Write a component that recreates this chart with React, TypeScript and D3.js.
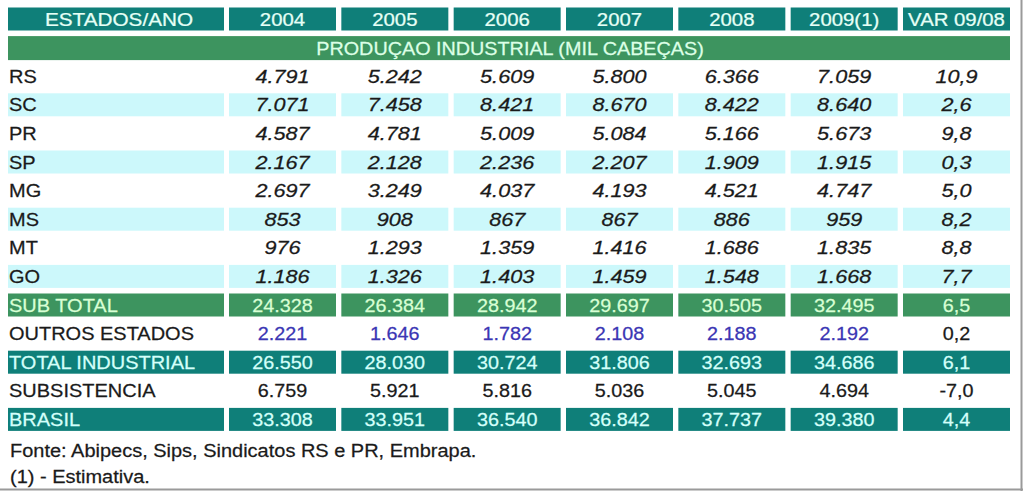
import React from "react";
import * as d3 from "d3";

const headerLabel = "ESTADOS/ANO";
const years = ["2004", "2005", "2006", "2007", "2008", "2009(1)"];
const varLabel = "VAR 09/08";
const sectionTitle = "PRODUÇAO INDUSTRIAL (MIL CABEÇAS)";

const rowNames = ["RS", "SC", "PR", "SP", "MG", "MS", "MT", "GO", "SUB TOTAL", "OUTROS ESTADOS", "TOTAL INDUSTRIAL", "SUBSISTENCIA", "BRASIL"];
const rowKinds = ["state", "state", "state", "state", "state", "state", "state", "state", "subtotal", "outros", "total", "subs", "total"];

const RS = [4791, 5242, 5609, 5800, 6366, 7059];
const SC = [7071, 7458, 8421, 8670, 8422, 8640];
const PR = [4587, 4781, 5009, 5084, 5166, 5673];
const SP = [2167, 2128, 2236, 2207, 1909, 1915];
const MG = [2697, 3249, 4037, 4193, 4521, 4747];
const MS = [853, 908, 867, 867, 886, 959];
const MT = [976, 1293, 1359, 1416, 1686, 1835];
const GO = [1186, 1326, 1403, 1459, 1548, 1668];
const SUBTOTAL = [24328, 26384, 28942, 29697, 30505, 32495];
const OUTROS = [2221, 1646, 1782, 2108, 2188, 2192];
const TOTALIND = [26550, 28030, 30724, 31806, 32693, 34686];
const SUBSIST = [6759, 5921, 5816, 5036, 5045, 4694];
const BRASIL = [33308, 33951, 36540, 36842, 37737, 39380];
const rowValues = [RS, SC, PR, SP, MG, MS, MT, GO, SUBTOTAL, OUTROS, TOTALIND, SUBSIST, BRASIL];
const varValues = [10.9, 2.6, 9.8, 0.3, 5.0, 8.2, 8.8, 7.7, 6.5, 0.2, 6.1, -7.0, 4.4];

const footnotes = ["Fonte: Abipecs, Sips, Sindicatos RS e PR, Embrapa.", "(1) - Estimativa."];

const locale = d3.formatLocale({ decimal: ",", thousands: ".", grouping: [3], currency: ["R$", ""], minus: "-" });
const fmtInt = locale.format(",d");
const fmtVar = locale.format(".1f");

const TEAL = "#0f7f79";
const GREEN = "#3d945f";
const CYAN = "#ccf8fb";
const FONT = "'Liberation Sans', Arial, sans-serif";
const FS = 18.5;

export default function App() {
  const colKeys = [...years, varLabel];
  const x = d3.scaleBand<string>().domain(colKeys).range([229, 1010]).paddingInner(0.0475).paddingOuter(0);
  const labelX0 = 8;
  const labelX1 = 224;
  const rowKeys = ["header", "section", ...rowNames];
  const y = d3.scaleBand<string>().domain(rowKeys).range([7.5, 7.5 + 28.6 * 15 - 5.6]).paddingInner(5.6 / 28.6).paddingOuter(0);
  const bh = y.bandwidth();
  const bw = x.bandwidth();

  const txt = (key: string, tx: number, ty: number, s: string, opts: any = {}) => {
    const sx = opts.sx ?? 1.08;
    const fill = opts.fill ?? "#1a1a1a";
    return (
      <text
        key={key}
        transform={`translate(${tx},${ty}) scale(${sx},1)`}
        textAnchor={opts.anchor ?? "middle"}
        fontFamily={FONT}
        fontSize={opts.fs ?? FS}
        fontStyle={opts.italic ? "italic" : "normal"}
        fill={fill}
        stroke={fill}
        strokeWidth={0.25}
      >
        {s}
      </text>
    );
  };

  const base = (k: string) => (y(k) as number) + bh / 2 + 6.6;
  const elems: any[] = [];

  // header
  elems.push(<rect key="h0" x={labelX0} y={y("header")} width={labelX1 - labelX0} height={bh} fill={TEAL} />);
  elems.push(txt("h0t", (labelX0 + labelX1) / 2 + 3, base("header"), headerLabel, { fill: "#e6fff6", sx: 1.12 }));
  colKeys.forEach((c, i) => {
    elems.push(<rect key={"hc" + i} x={x(c)} y={y("header")} width={bw} height={bh} fill={TEAL} />);
    elems.push(txt("hct" + i, (x(c) as number) + bw / 2, base("header"), c, { fill: "#e6fff6", sx: 1.1 }));
  });

  // section
  elems.push(<rect key="sec" x={labelX0} y={y("section")} width={1010 - labelX0} height={bh + 1} fill={GREEN} />);
  elems.push(txt("sect", 510, base("section") + 0.5, sectionTitle, { fill: "#dcffe6", sx: 1.07 }));

  rowNames.forEach((name, r) => {
    const kind = rowKinds[r];
    const vals = rowValues[r];
    let fill: string | null = null;
    let labelColor = "#1a1a1a";
    let valColor = "#1a1a1a";
    let varColor = "#1a1a1a";
    let italic = false;
    if (kind === "state") {
      italic = true;
      if (r % 2 === 1) fill = CYAN;
    } else if (kind === "subtotal") {
      fill = GREEN;
      labelColor = valColor = varColor = "#d8ffd4";
    } else if (kind === "total") {
      fill = TEAL;
      labelColor = valColor = varColor = "#d4fffa";
    } else if (kind === "outros") {
      valColor = "#3b36b4";
    }
    const yy = y(name) as number;
    if (fill) {
      elems.push(<rect key={"rl" + r} x={labelX0} y={yy} width={labelX1 - labelX0} height={bh} fill={fill} />);
      colKeys.forEach((c, i) => {
        elems.push(<rect key={"rc" + r + "_" + i} x={x(c)} y={yy} width={bw} height={bh} fill={fill as string} />);
      });
    }
    elems.push(txt("lt" + r, labelX0 + 1, base(name), name, { anchor: "start", fill: labelColor }));
    vals.forEach((v, i) => {
      const c = years[i];
      elems.push(txt("vt" + r + "_" + i, (x(c) as number) + bw / 2, base(name), fmtInt(v), { fill: valColor, italic, sx: italic ? 1.17 : 1.07 }));
    });
    elems.push(txt("var" + r, (x(varLabel) as number) + bw / 2, base(name), fmtVar(varValues[r]), { fill: varColor, italic, sx: italic ? 1.17 : 1.07 }));
  });

  footnotes.forEach((f, i) => {
    elems.push(txt("fn" + i, 10, 457 + i * 26, f, { anchor: "start", fill: "#1a1a1a", sx: 1.08 }));
  });

  return (
    <svg width={1023} height={491} style={{ position: "absolute", left: 0, top: 0, background: "#fff" }}>
      <rect x={0} y={0} width={1023} height={491} fill="#ffffff" />
      {elems}
      <line x1={1021.5} y1={0} x2={1021.5} y2={491} stroke="#9a9a9a" strokeWidth={2} />
      <line x1={0} y1={489.5} x2={1023} y2={489.5} stroke="#9a9a9a" strokeWidth={2} />
    </svg>
  );
}
